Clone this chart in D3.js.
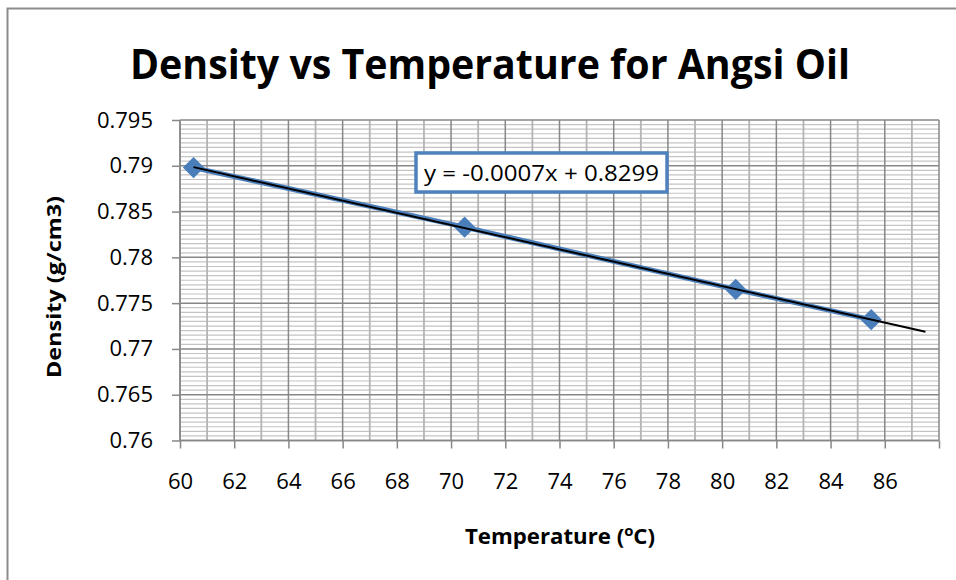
<!DOCTYPE html>
<html>
<head>
<meta charset="utf-8">
<script src="https://cdn.jsdelivr.net/npm/d3@7"></script>
<style>
  body { margin: 0; background: #fff; }
  text { font-family: "Open Sans", sans-serif; fill: #000; }
</style>
</head>
<body>
<div id="chart"></div>
<script>
// data
const temperatures = [60.5, 70.5, 80.5, 85.5];
const densities = [0.7898, 0.7833, 0.7765, 0.7732];
const xTicks = [60, 62, 64, 66, 68, 70, 72, 74, 76, 78, 80, 82, 84, 86, 88];
const yTicks = [0.76, 0.765, 0.77, 0.775, 0.78, 0.785, 0.79, 0.795];
const equationLabel = 'y = -0.0007x + 0.8299';

const W = 956, H = 580;
const plot = { left: 180, right: 939, top: 120, bottom: 440.5 };

const svg = d3.select('#chart').append('svg')
  .attr('width', W)
  .attr('height', H);

// chart border (cropped on the right / bottom)
svg.append('rect')
  .attr('x', 7.5).attr('y', 8.5)
  .attr('width', 980).attr('height', 600)
  .attr('fill', '#fff')
  .attr('stroke', '#8c8c8c')
  .attr('stroke-width', 2);

const x = d3.scaleLinear().domain([60, 88]).range([plot.left, plot.right]);
const y = d3.scaleLinear().domain([0.76, 0.795]).range([plot.bottom, plot.top]);

// gridlines: minor first, major on top
const grid = svg.append('g').attr('class', 'grid');

const yMinor = d3.range(0, 71).map(i => 0.76 + i * 0.0005).filter((v, i) => i % 10 !== 0);
grid.selectAll('.y-minor').data(yMinor).join('line')
  .attr('class', 'y-minor')
  .attr('x1', plot.left).attr('x2', plot.right)
  .attr('y1', d => y(d)).attr('y2', d => y(d))
  .attr('stroke', '#c4c4c4').attr('stroke-width', 1.2);

const xMinor = d3.range(61, 88, 2);
grid.selectAll('.x-minor').data(xMinor).join('line')
  .attr('class', 'x-minor')
  .attr('y1', plot.top).attr('y2', plot.bottom)
  .attr('x1', d => x(d)).attr('x2', d => x(d))
  .attr('stroke', '#b4b4b4').attr('stroke-width', 1.8);

grid.selectAll('.y-major').data(yTicks).join('line')
  .attr('class', 'y-major')
  .attr('x1', plot.left).attr('x2', plot.right)
  .attr('y1', d => y(d)).attr('y2', d => y(d))
  .attr('stroke', '#878787').attr('stroke-width', 1.5);

grid.selectAll('.x-major').data(xTicks).join('line')
  .attr('class', 'x-major')
  .attr('y1', plot.top).attr('y2', plot.bottom)
  .attr('x1', d => x(d)).attr('x2', d => x(d))
  .attr('stroke', '#878787').attr('stroke-width', 1.5);

// axes
const xAxis = svg.append('g')
  .attr('transform', `translate(0,${plot.bottom})`)
  .call(d3.axisBottom(x).tickValues(xTicks).tickSize(8).tickPadding(25)
    .tickFormat(d => d === 88 ? '' : d));

const yAxis = svg.append('g')
  .attr('transform', `translate(${plot.left},0)`)
  .call(d3.axisLeft(y).tickValues(yTicks).tickSize(8).tickPadding(19)
    .tickFormat(d3.format('')));

[xAxis, yAxis].forEach(axis => {
  axis.select('.domain').attr('stroke', '#878787').attr('stroke-width', 1.5);
  axis.selectAll('.tick line').attr('stroke', '#878787').attr('stroke-width', 1.5);
  axis.selectAll('.tick text')
    .attr('fill', '#000')
    .style('font-family', '"Open Sans", sans-serif')
    .style('font-size', '22px');
});
xAxis.select('.domain').attr('d', `M${plot.left},0H${plot.right}`);
yAxis.select('.domain').attr('d', `M0,${plot.bottom}V${plot.top}`);

// data series
const points = temperatures.map((t, i) => ({ t, d: densities[i] }));

const line = d3.line().x(p => x(p.t)).y(p => y(p.d));

svg.append('path')
  .datum(points)
  .attr('d', line)
  .attr('fill', 'none')
  .attr('stroke', '#4a7ebb')
  .attr('stroke-width', 5);

svg.selectAll('.marker').data(points).join('path')
  .attr('class', 'marker')
  .attr('d', d3.symbol().type(d3.symbolDiamond2).size(290))
  .attr('transform', p => `translate(${x(p.t)},${y(p.d)})`)
  .attr('fill', '#4a7ebb');

// linear trendline, forecast 2 units forward
const mx = d3.mean(temperatures), my = d3.mean(densities);
const slope = d3.sum(points, p => (p.t - mx) * (p.d - my)) / d3.sum(points, p => (p.t - mx) ** 2);
const intercept = my - slope * mx;
const tEnd = d3.max(temperatures) + 2;

svg.append('line')
  .attr('x1', x(temperatures[0])).attr('y1', y(slope * temperatures[0] + intercept))
  .attr('x2', x(tEnd)).attr('y2', y(slope * tEnd + intercept))
  .attr('stroke', '#000')
  .attr('stroke-width', 2);

// equation label
svg.append('rect')
  .attr('x', 416).attr('y', 153)
  .attr('width', 251).attr('height', 39)
  .attr('fill', '#fff')
  .attr('stroke', '#4f81bd')
  .attr('stroke-width', 3.5);

svg.append('text')
  .attr('x', 424).attr('y', 181)
  .attr('textLength', 235)
  .attr('lengthAdjust', 'spacingAndGlyphs')
  .style('font-size', '22px')
  .text(equationLabel);

// titles
svg.append('text')
  .attr('x', 490).attr('y', 79)
  .attr('text-anchor', 'middle')
  .attr('textLength', 720)
  .attr('lengthAdjust', 'spacingAndGlyphs')
  .style('font-size', '42px')
  .style('font-weight', 'bold')
  .text('Density vs Temperature for Angsi Oil');

svg.append('text')
  .attr('transform', 'translate(61,287) rotate(-90)')
  .attr('text-anchor', 'middle')
  .attr('textLength', 182)
  .attr('lengthAdjust', 'spacingAndGlyphs')
  .style('font-size', '20px')
  .style('font-weight', 'bold')
  .text('Density (g/cm3)');

const xTitle = svg.append('text')
  .attr('x', 560).attr('y', 544)
  .attr('text-anchor', 'middle')
  .attr('textLength', 190)
  .attr('lengthAdjust', 'spacingAndGlyphs')
  .style('font-size', '21px')
  .style('font-weight', 'bold');
xTitle.append('tspan').text('Temperature (');
xTitle.append('tspan').attr('dy', -8).style('font-size', '14px').text('o');
xTitle.append('tspan').attr('dy', 8).text('C)');
</script>
</body>
</html>
